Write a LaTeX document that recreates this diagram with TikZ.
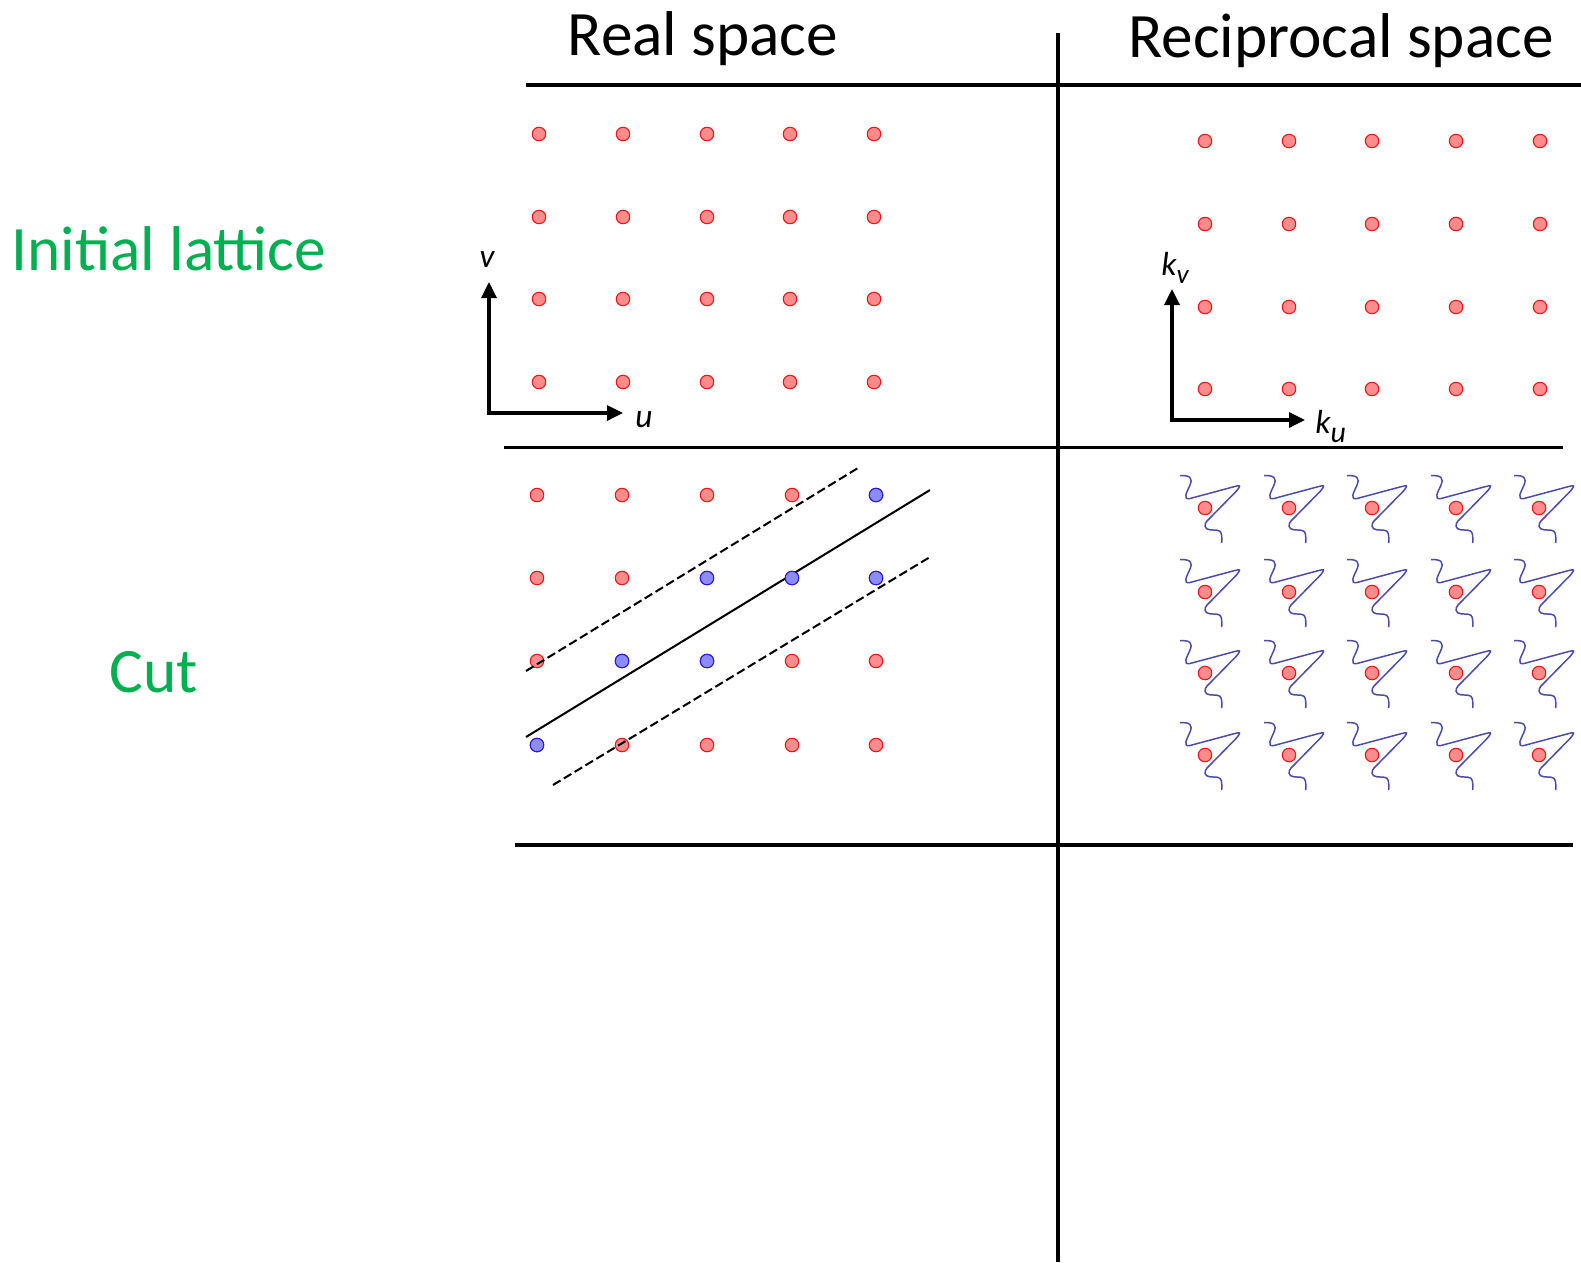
\documentclass[tikz,border=0pt]{standalone}
\usepackage{fontspec}
\setmainfont{Carlito}
\usetikzlibrary{arrows.meta}
\definecolor{dotredfill}{RGB}{255,140,140}
\definecolor{dotredline}{RGB}{240,20,20}
\definecolor{dotbluefill}{RGB}{140,140,255}
\definecolor{dotblueline}{RGB}{30,30,230}
\definecolor{squigblue}{RGB}{75,75,170}
\definecolor{labelgreen}{RGB}{0,176,80}
\tikzset{
  reddot/.style={circle, draw=dotredline, fill=dotredfill, line width=0.6pt, minimum size=0.27cm, inner sep=0pt},
  bluedot/.style={circle, draw=dotblueline, fill=dotbluefill, line width=0.6pt, minimum size=0.27cm, inner sep=0pt},
  divider/.style={line width=2.2pt},
  axisarrow/.style={line width=1.9pt, -{Triangle[length=0.32cm,width=0.3cm]}},
  cutline/.style={line width=1.15pt},
  cutdash/.style={line width=1.15pt, dash pattern=on 5pt off 2.2pt},
  bigtext/.style={font=\fontsize{36}{40}\selectfont, inner sep=0pt, anchor=base},
  axlabel/.style={font=\fontsize{19}{22}\selectfont\itshape, inner sep=0pt, anchor=base},
  squig/.pic={
    \draw[squigblue, line width=0.85pt, line join=round]
      (-25,-32.3) .. controls (-15,-33) and (-12,-30) .. (-15,-23)
      .. controls (-18,-16) and (-23,-8) .. (-15,-9.5)
      -- (29,-21.3) .. controls (36,-23) .. (31.5,-17)
      -- (2,13) .. controls (-1,16) and (-1,21.5) .. (5,21.8)
      -- (12,22.2) .. controls (17,22.5) and (17,27) .. (16.7,35);
  }
}
\begin{document}
\begin{tikzpicture}[x=0.02cm,y=-0.02cm]
\useasboundingbox (0,0) rectangle (1581,1262);

% dividers
\coordinate (vtop) at (1058,33);
\coordinate (vbot) at (1058,1262);
\coordinate (h1l) at (526,85);
\coordinate (h1r) at (1581,85);
\coordinate (h2l) at (504,447.5);
\coordinate (h2r) at (1563,447.5);
\coordinate (h3l) at (515,845);
\coordinate (h3r) at (1573,845);
\draw[divider] (vtop) -- (vbot);
\draw[divider] (h1l) -- (h1r);
\draw[divider] (h2l) -- (h2r);
\draw[divider] (h3l) -- (h3r);

% headings
\node[bigtext] (realspace) at (703,55) {Real space};
\node[bigtext] (recspace) at (1341,57) {Reciprocal space};
\node[bigtext, text=labelgreen] (initlat) at (169,270) {Initial lattice};
\node[bigtext, text=labelgreen] (cutlabel) at (154,692) {Cut};

% real space initial lattice
\foreach \c/\x in {1/539,2/623,3/707,4/790,5/874}{
  \foreach \r/\y in {1/134,2/217,3/299,4/382}{
    \node[reddot] (ra\c\r) at (\x,\y) {};
  }
}
% reciprocal initial lattice
\foreach \c/\x in {1/1205,2/1289,3/1372,4/1456,5/1540}{
  \foreach \r/\y in {1/141,2/224,3/307,4/389}{
    \node[reddot] (ka\c\r) at (\x,\y) {};
  }
}

% axes real
\coordinate (ro) at (489,413);
\coordinate (rv) at (489,282);
\coordinate (ru) at (623,413);
\draw[axisarrow] ([yshift=-0.95pt]ro) -- (rv);
\draw[axisarrow] ([xshift=-0.95pt]ro) -- (ru);
\node[axlabel] (vlab) at (487,267) {v};
\node[axlabel] (ulab) at (644,427) {u};

% axes reciprocal
\coordinate (ko) at (1172,420);
\coordinate (kv) at (1172,289);
\coordinate (ku) at (1305,420);
\draw[axisarrow] ([yshift=-0.95pt]ko) -- (kv);
\draw[axisarrow] ([xshift=-0.95pt]ko) -- (ku);
\node[axlabel, anchor=base west] (kvlab) at (1161,275) {k\raisebox{-4.8pt}{\fontsize{15.5}{18}\selectfont v}};
\node[axlabel, anchor=base west] (kulab) at (1315,433) {k\raisebox{-5.3pt}{\fontsize{17}{20}\selectfont u}};

% cut lines
\coordinate (sa) at (526,737);
\coordinate (sb) at (930,490);
\coordinate (da) at (526,671);
\coordinate (db) at (858,468);
\coordinate (ea) at (553,785);
\coordinate (eb) at (930,557);

% cut real space dots
\foreach \c/\x in {1/537,2/622,3/707,4/792,5/876}{
  \foreach \r/\y in {1/495,2/578,3/661,4/745}{
    \node[reddot] (rc\c\r) at (\x,\y) {};
  }
}
\draw[cutline] (sa) -- (sb);
\draw[cutdash] (da) -- (db);
\draw[cutdash] (ea) -- (eb);
\foreach \c/\r in {5/1,3/2,4/2,5/2,2/3,3/3,1/4}{
  \node[bluedot] (bc\c\r) at (rc\c\r) {};
}

% cut reciprocal
\foreach \c/\x in {1/1205,2/1289,3/1372,4/1456,5/1539}{
  \foreach \r/\y in {1/508,2/592,3/673,4/755}{
    \pic at (\x,\y) {squig};
    \node[reddot] (kc\c\r) at (\x,\y) {};
  }
}
\end{tikzpicture}
\end{document}
